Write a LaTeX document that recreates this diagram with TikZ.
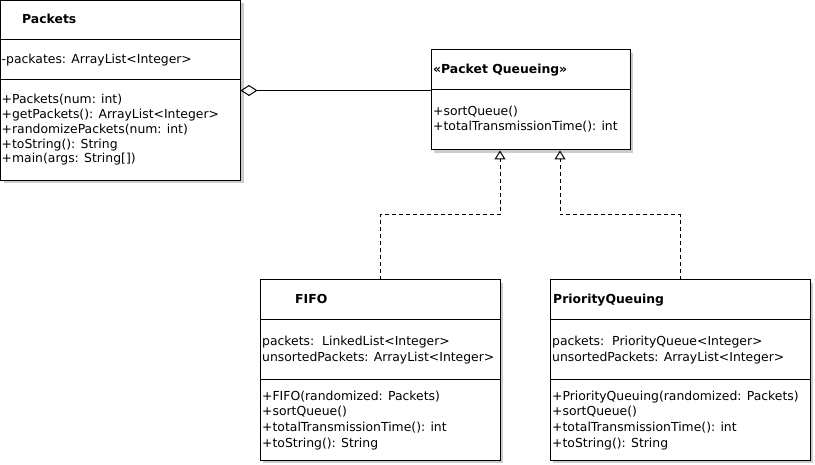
\documentclass[tikz,border=0pt]{standalone}
\usepackage{fontspec}
\setmainfont{DejaVu Sans}
\usetikzlibrary{arrows.meta,shadows}
\begin{document}
\begin{tikzpicture}[x=1pt,y=-1pt,
  classbox/.style={draw,fill=white,line width=1pt,inner sep=0pt,outer sep=0pt,
    drop shadow={shadow xshift=3pt,shadow yshift=-3pt,fill=black!20,opacity=1}},
  title/.style={anchor=base west,inner sep=0pt,font=\fontsize{12.4}{15}\selectfont\bfseries},
  member/.style={anchor=base west,inner sep=0pt,font=\fontsize{12.4}{15}\selectfont},
  aggr/.style={line width=1pt,-{Diamond[open,length=17pt,width=11pt]}},
  real/.style={line width=1pt,dash pattern=on 4pt off 3pt,-{Triangle[open,length=9pt,width=11pt]}}]
\useasboundingbox (0,0) rectangle (815,465);
% classes
\node[classbox,minimum width=240pt,minimum height=180pt] (packets) at (120.5,90.5) {};
\node[classbox,minimum width=199pt,minimum height=100pt] (queue) at (530.5,100) {};
\node[classbox,minimum width=240pt,minimum height=180pt] (fifo) at (380,370) {};
\node[classbox,minimum width=260pt,minimum height=180pt] (prio) at (680,370) {};
\foreach \y in {40,80}
  \draw[line width=1pt] (packets.west |- 0,\y) -- (packets.east |- 0,\y);
\draw[line width=1pt] (queue.west |- 0,90) -- (queue.east |- 0,90);
\foreach \y in {320,380} {
  \draw[line width=1pt] (fifo.west |- 0,\y) -- (fifo.east |- 0,\y);
  \draw[line width=1pt] (prio.west |- 0,\y) -- (prio.east |- 0,\y);
}
% texts
\node[title] (packetsname) at (22,24) {Packets};
\node[member] (packetsattr) at (1.5,64) {-packates: ArrayList<Integer>};
\foreach \t [count=\i from 0] in {{+Packets(num: int)},{+getPackets(): ArrayList<Integer>},
  {+randomizePackets(num: int)},{+toString(): String},{+main(args: String[])}}
  \node[member] (packetsop\i) at (1.5,104+14.75*\i) {\t};
\node[title] (queuename) at (433,74) {«Packet Queueing»};
\foreach \t [count=\i from 0] in {{+sortQueue()},{+totalTransmissionTime(): int}}
  \node[member] (queueop\i) at (433,115.5+15.5*\i) {\t};
\node[title] (fifoname) at (295,304) {FIFO};
\node[member] (fifoattr0) at (262,345.5) {packets:\ \ LinkedList<Integer>};
\node[member] (fifoattr1) at (262,361.5) {unsortedPackets: ArrayList<Integer>};
\node[title] (prioname) at (553,304) {PriorityQueuing};
\node[member] (prioattr0) at (552,345.5) {packets:\ \ PriorityQueue<Integer>};
\node[member] (prioattr1) at (552,361.5) {unsortedPackets: ArrayList<Integer>};
\foreach \a/\b [count=\i from 0] in {{+FIFO(randomized: Packets)}/{+PriorityQueuing(randomized: Packets)},
  {+sortQueue()}/{+sortQueue()},{+totalTransmissionTime(): int}/{+totalTransmissionTime(): int},
  {+toString(): String}/{+toString(): String}} {
  \node[member] (fifoop\i) at (262,400.5+15.5*\i) {\a};
  \node[member] (prioop\i) at (552,400.5+15.5*\i) {\b};
}
% connectors
\coordinate (fifotip) at (500,150.5);
\coordinate (priotip) at (560,150.5);
\draw[aggr] (packets.east -| queue.west) -- (packets.east);
\draw[real] (fifo.north) -- (fifo.north |- 0,215) -| (fifotip);
\draw[real] (prio.north) -- (prio.north |- 0,215) -| (priotip);
\end{tikzpicture}
\end{document}
